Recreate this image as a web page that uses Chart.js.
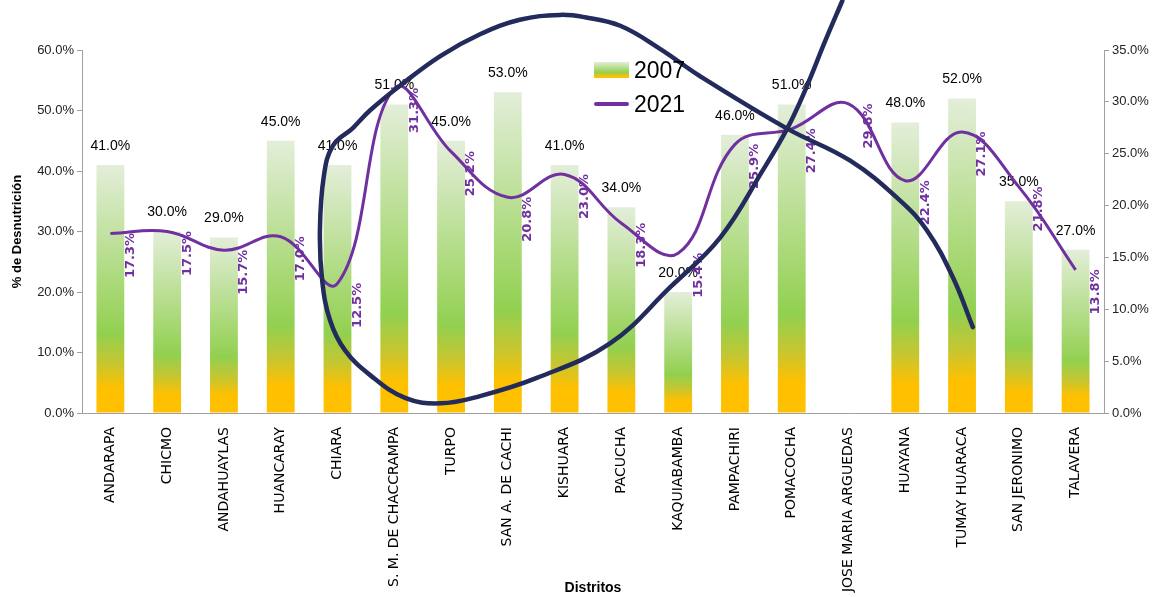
<!DOCTYPE html>
<html>
<head>
<meta charset="utf-8">
<script src="https://cdn.jsdelivr.net/npm/chart.js@4.4.0/dist/chart.umd.min.js"></script>
<style>
  body { margin: 0; background: #fff; }
  #wrap { position: relative; width: 1161px; height: 597px; }
  #legend { position: absolute; left: 594px; top: 55px; font-family: "Liberation Sans Narrow", "Liberation Sans", sans-serif; font-size: 23px; color: #000; }
  #legend div { height: 30px; display: flex; align-items: center; margin-bottom: 4px; }
  #legend .box { width: 35px; height: 16px; margin-right: 5px; background: linear-gradient(#e2eed8, #92d050 65%, #ffc000 90%); }
  #legend .ln { width: 35px; height: 4px; margin-right: 5px; background: #7030a0; border-radius: 2px; }
</style>
</head>
<body>
<div id="wrap">
  <canvas id="myChart"></canvas>
  <div id="legend">
    <div><span class="box"></span>2007</div>
    <div><span class="ln"></span>2021</div>
  </div>
</div>
<script>
var distritos = ["ANDARAPA", "CHICMO", "ANDAHUAYLAS", "HUANCARAY", "CHIARA", "S. M. DE CHACCRAMPA", "TURPO",
    "SAN A. DE CACHI", "KISHUARA", "PACUCHA", "KAQUIABAMBA", "PAMPACHIRI", "POMACOCHA", "JOSE MARIA ARGUEDAS",
    "HUAYANA", "TUMAY HUARACA", "SAN JERONIMO", "TALAVERA"];
var valores2007 = [41, 30, 29, 45, 41, 51, 45, 53, 41, 34, 20, 46, 51, null, 48, 52, 35, 27];
var valores2021 = [17.3, 17.5, 15.7, 17.0, 12.5, 31.3, 25.2, 20.8, 23.0, 18.3, 15.4, 25.9, 27.4, 29.8, 22.4, 27.1, 21.8, 13.8];
var ticksIzq = [0, 10, 20, 30, 40, 50, 60];
var ticksDer = [0, 5, 10, 15, 20, 25, 30, 35];

// trazo a mano sobre el grafico (x = posicion de distrito, y = % eje izquierdo)
var trazoX = [15.19, 14.84, 14.38, 13.91, 13.03, 11.92, 10.38, 9.68, 8.98, 8.36, 7.92, 7.21, 6.51, 5.81, 5.10, 4.57,
    4.27, 3.92, 3.76, 3.69, 3.73, 3.87, 4.13, 4.57, 5.19, 5.81, 6.51, 7.51, 8.80, 9.86, 10.74, 11.49, 11.92, 12.23, 12.59, 12.89];
var trazoY = [14.2, 22.4, 30.2, 35.1, 41.7, 47.0, 55.7, 60.2, 64.0, 65.4, 65.8, 65.0, 62.6, 59.0, 54.1, 50.0,
    47.1, 44.2, 39.2, 30.2, 21.9, 15.3, 10.4, 6.3, 2.5, 1.6, 2.8, 5.8, 11.5, 20.8, 29.0, 40.1, 47.0, 53.2, 61.5, 68.1];

var trazo = trazoX.map(function(x, i) { return {x: x, y: trazoY[i]}; });

function barFill(c) {
    var chart = c.chart;
    if (!chart.chartArea || c.type !== 'data' || c.raw == null) return '#92d050';
    var ys = chart.scales.y;
    var top = ys.getPixelForValue(c.raw), base = ys.getPixelForValue(0);
    var g = chart.ctx.createLinearGradient(0, top, 0, base);
    g.addColorStop(0, '#e3eed9');
    g.addColorStop(0.68, '#92d050');
    g.addColorStop(0.8, '#c6c630');
    g.addColorStop(0.9, '#ffc000');
    g.addColorStop(1, '#ffc000');
    return g;
}

var etiquetas = {
    id: 'etiquetas',
    afterDatasetDraw: function(chart, args) {
        var ctx = chart.ctx;
        var meta = args.meta;
        ctx.save();
        if (args.index === 0) {
            ctx.font = '14px "Liberation Sans Narrow", "Liberation Sans", sans-serif';
            ctx.fillStyle = '#000';
            ctx.textAlign = 'center';
            ctx.textBaseline = 'bottom';
            meta.data.forEach(function(bar, i) {
                if (valores2007[i] == null) return;
                ctx.fillText(valores2007[i].toFixed(1) + '%', bar.x, bar.y - 12);
            });
        } else if (args.index === 1) {
            ctx.font = 'bold 13px "DejaVu Sans", sans-serif';
            ctx.fillStyle = '#7030a0';
            ctx.textAlign = 'center';
            ctx.textBaseline = 'middle';
            meta.data.forEach(function(pt, i) {
                ctx.save();
                ctx.translate(pt.x + 20, pt.y + 22);
                ctx.rotate(-Math.PI / 2);
                ctx.fillText(valores2021[i].toFixed(1) + '%', 0, 0);
                ctx.restore();
            });
        }
        ctx.restore();
    }
};

var pct = function(v) { return v.toFixed(1) + '%'; };
var tickFont = { family: '"Liberation Sans Narrow", "Liberation Sans", sans-serif', size: 13 };

var ctx = document.getElementById("myChart");
var myChart = new Chart(ctx, {
    type: 'bar',
    data: {
        labels: distritos,
        datasets: [
            {
                label: '2007',
                data: valores2007,
                backgroundColor: barFill,
                yAxisID: 'y',
                xAxisID: 'x',
                grouped: false,
                barPercentage: 0.49,
                categoryPercentage: 1,
                order: 3
            },
            {
                type: 'line',
                label: '2021',
                data: valores2021,
                borderColor: '#7030a0',
                borderWidth: 3,
                tension: 0.4,
                pointRadius: 0,
                yAxisID: 'y2',
                xAxisID: 'x',
                order: 2
            },
            {
                type: 'line',
                label: 'trazo',
                data: trazo,
                borderColor: '#232b5c',
                borderWidth: 4.5,
                borderCapStyle: 'round',
                tension: 0.4,
                pointRadius: 0,
                clip: false,
                xAxisID: 'x2',
                yAxisID: 'y',
                order: 1
            }
        ]
    },
    options: {
        responsive: true,
        maintainAspectRatio: false,
        animation: false,
        layout: { padding: { top: 50, left: 0, right: 0, bottom: 0 } },
        plugins: {
            legend: { display: false },
            tooltip: { enabled: false }
        },
        scales: {
            x: {
                type: 'category',
                offset: true,
                grid: { display: false },
                border: { color: '#a0a0a0' },
                ticks: {
                    autoSkip: false, minRotation: 90, maxRotation: 90, padding: 6,
                    color: '#000', font: { family: '"DejaVu Sans", sans-serif', size: 14 }
                },
                title: {
                    display: true, text: 'Distritos', color: '#000', padding: 0,
                    font: { family: '"Liberation Sans Narrow", "Liberation Sans", sans-serif', size: 14, weight: 'bold' }
                },
                afterFit: function(s) { s.height = 184; }
            },
            x2: {
                type: 'linear',
                display: false,
                offset: false,
                grace: 0,
                min: -0.5,
                max: 17.5
            },
            y: {
                position: 'left',
                min: 0, max: 60,
                afterBuildTicks: function(s) { s.ticks = ticksIzq.map(function(v) { return {value: v}; }); },
                grid: { drawOnChartArea: false, tickLength: 5, color: '#a0a0a0' },
                border: { color: '#a0a0a0' },
                ticks: { callback: pct, color: '#222', font: tickFont },
                title: {
                    display: true, text: '% de Desnutrición', color: '#000', padding: { top: 10, bottom: 0 },
                    font: { family: '"Liberation Sans", sans-serif', size: 13, weight: 'bold' }
                },
                afterFit: function(s) { s.width = 82; }
            },
            y2: {
                position: 'right',
                min: 0, max: 35,
                afterBuildTicks: function(s) { s.ticks = ticksDer.map(function(v) { return {value: v}; }); },
                grid: { drawOnChartArea: false, tickLength: 5, color: '#a0a0a0' },
                border: { color: '#a0a0a0' },
                ticks: { callback: pct, color: '#222', font: tickFont },
                afterFit: function(s) { s.width = 57; }
            }
        }
    },
    plugins: [etiquetas]
});
</script>
</body>
</html>
